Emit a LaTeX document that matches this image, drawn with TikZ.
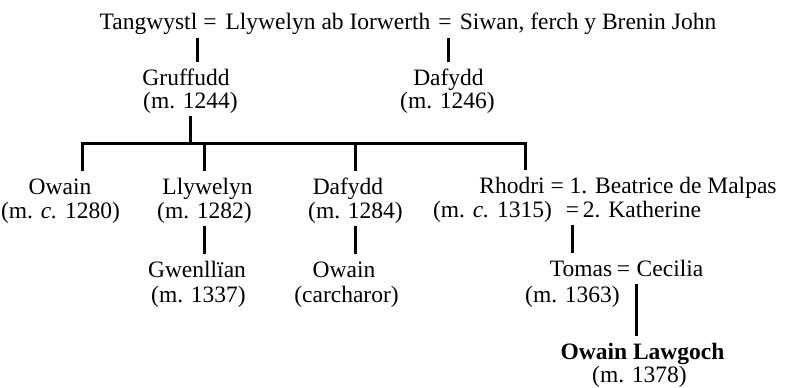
\documentclass[tikz,border=0pt]{standalone}
\usepackage{fontspec}
\setmainfont{Liberation Serif}
\usepackage{tikz}
\tikzset{pers/.style={inner sep=0pt,outer ysep=3pt,anchor=base,
  text height=20pt,text depth=4.5pt,font=\fontsize{23.5}{24}\selectfont},
  line/.style={line width=3pt}}

\begin{document}
\begin{tikzpicture}[x=1pt,y=-1pt]
  \useasboundingbox (0,0) rectangle (785,388);

  % top line
  \node [pers] (tangwystl) at (148.5,30) {Tangwystl};
  \node [pers] (eqA) at (210,30) {=};
  \node [pers] (llywelynI) at (328,30) {Llywelyn ab Iorwerth};
  \node [pers] (eqB) at (445,30) {=};
  \node [pers] (siwan) at (588,30) {Siwan, ferch y Brenin John};

  \node [pers] (gruffudd) at (186,85) {Gruffudd};
  \node [pers] (gruffuddm) at (190.5,108) {(m. 1244)};
  \node [pers] (dafyddA) at (448.5,85) {Dafydd};
  \node [pers] (dafyddAm) at (447.5,108) {(m. 1246)};

  \draw [line] (tangwystl.south east) -- (tangwystl.south east |- gruffudd.north);
  \draw [line] (dafyddA.north |- eqB.south) -- (dafyddA.north);

  % children of Gruffudd
  \node [pers] (owain) at (60,194) {Owain};
  \node [pers] (owainm) at (60.5,218) {(m. \textit{c.} 1280)};
  \node [pers] (llywelyn) at (207.5,194) {Llywelyn};
  \node [pers] (llywelynm) at (204.5,218) {(m. 1282)};
  \node [pers] (dafydd) at (348,194) {Dafydd};
  \node [pers] (dafyddm) at (355.5,218) {(m. 1284)};
  \node [pers] (rhodri) at (628,193) {Rhodri = 1. Beatrice de Malpas};
  \node [pers] (rhodrim) at (492.5,217) {(m. \textit{c.} 1315)};
  \node [pers] (eqK) at (572.5,217) {=};
  \node [pers] (katherine) at (642,217) {2. Katherine};

  \coordinate (b1) at (82.5,143.5);
  \coordinate (b2) at (204.5,143.5);
  \coordinate (b3) at (355.5,143.5);
  \coordinate (b4) at (525.5,143.5);

  \draw [line] (gruffuddm.south) -- (gruffuddm.south |- b1);
  \draw [line] (b1 |- owain.north) -- (b1) -- (b4) -- (b4 |- rhodri.north);
  \draw [line] (b2) -- (b2 |- llywelyn.north);
  \draw [line] (b3) -- (b3 |- dafydd.north);

  % grandchildren
  \node [pers] (gwenllian) at (197,277) {Gwenllïan};
  \node [pers] (gwenllianm) at (198.5,302) {(m. 1337)};
  \node [pers] (owainB) at (344,277) {Owain};
  \node [pers] (carcharor) at (346.5,302) {(carcharor)};
  \node [pers] (tomas) at (581,276) {Tomas};
  \node [pers] (eqT) at (623.5,276) {=};
  \node [pers] (cecilia) at (670,276) {Cecilia};
  \node [pers] (tomasm) at (572.5,302) {(m. 1363)};

  \draw [line] (llywelynm.south) -- (llywelynm.south |- gwenllian.north);
  \draw [line] (dafyddm.south) -- (dafyddm.south |- owainB.north);
  \draw [line] (eqK.south) -- (eqK.south |- tomas.north);

  \node [pers] (lawgoch) at (642.5,359) {\textbf{Owain Lawgoch}};
  \node [pers] (lawgochm) at (639.5,382) {(m. 1378)};

  \draw [line] (cecilia.south west) -- (cecilia.south west |- lawgoch.north);

\end{tikzpicture}
\end{document}
